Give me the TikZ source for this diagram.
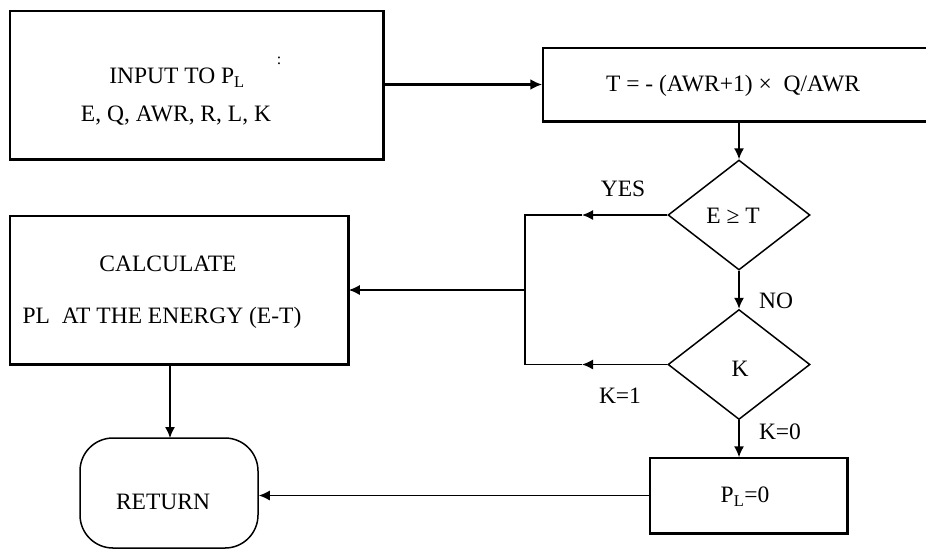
\documentclass[tikz,border=0pt]{standalone}
\usepackage{fontspec}
\setmainfont{Liberation Serif}
\usetikzlibrary{shapes.geometric,arrows.meta,calc}
\begin{document}
\begin{tikzpicture}[x=1pt,y=-1pt,
  every node/.style={font=\fontsize{23.5}{28}\selectfont},
  thin line/.style={line width=1.5pt},
  thick edge/.style={line width=3.2pt},
  boxshape/.style={draw,thin line,rectangle,inner sep=0pt},
  dia/.style={draw,thin line,diamond,aspect=1,inner sep=0pt,minimum width=142pt,minimum height=110pt},
  arr/.style={thin line,-{Latex[length=11pt,width=10pt]}},
  lbl/.style={inner sep=0pt}]
\clip (0,0) rectangle (926,550);
\fill[white] (0,0) rectangle (926,550);

% boxes
\node[boxshape,minimum width=373pt,minimum height=148pt] (inp) at (196.5,85) {};
\draw[thick edge] (inp.north east) -- (inp.south east) -- (inp.south west);
\node[lbl] at (177,78) {INPUT TO P$_{\mathrm{L}}$};
\node[lbl] at (176,116) {E, Q, AWR, R, L, K};
\node[lbl,font=\fontsize{16}{18}\selectfont] at (279,61) {:};

\node[boxshape,minimum width=390pt,minimum height=73pt] (tcalc) at (738,84.5) {};
\draw[thick edge] (tcalc.south west) -- (tcalc.south east);
\node[lbl] at (733,86) {T = - (AWR+1) × \ Q/AWR};

\node[dia] (d1) at (739,215) {};
\node[lbl] at (733,216) {E ≥ T};
\node[dia] (d2) at (739,364.5) {};
\node[lbl] at (740,369) {K};

\node[boxshape,minimum width=338pt,minimum height=148pt] (calc) at (179,290) {};
\draw[thick edge] (calc.north east) -- (calc.south east) -- (calc.south west);
\node[lbl] at (168,264) {CALCULATE};
\node[lbl] at (162,318) {PL \ AT THE ENERGY (E-T)};

\node[draw,thin line,rectangle,rounded corners=33pt,minimum width=178pt,minimum height=110pt] (ret) at (169,493) {};
\node[lbl] at (163,502) {RETURN};

\node[boxshape,minimum width=197pt,minimum height=75pt] (pl0) at (748.5,495.5) {};
\draw[thick edge] (pl0.north east) -- (pl0.south east) -- (pl0.south west);
\node[lbl] at (745,497) {P$_{\mathrm{L}}$=0};

% labels
\node[lbl] at (623,189) {YES};
\node[lbl] at (776,301) {NO};
\node[lbl] at (620,396) {K=1};
\node[lbl] at (780,432) {K=0};

% coordinates
\coordinate (jtop) at (525,215);
\coordinate (jbot) at (525,364.5);
\coordinate (jmid) at (525,290);
\coordinate (ya) at (582,215);
\coordinate (ka) at (582,364.5);
\coordinate (calcout) at (170,364);
\coordinate (retin) at (170,438);

% connectors
\draw[thick edge,-{Latex[length=12pt,width=11pt]}] (inp.east |- tcalc.west) -- (tcalc.west);
\draw[arr] (tcalc.south -| d1.north) -- (d1.north);
\draw[arr] (d1.west) -- (ya);
\draw[thin line] (ya) -- (jtop) -- (jbot) -- (ka);
\draw[arr] (d2.west) -- (ka);
\draw[arr] (jmid) -- (jmid -| calc.east);
\draw[arr] (d1.south) -- (d2.north);
\draw[arr] (d2.south) -- (d2.south |- pl0.north);
\draw[arr] (calcout) -- (retin);
\draw[arr] (pl0.west) -- (pl0.west -| ret.east);
\end{tikzpicture}
\end{document}
